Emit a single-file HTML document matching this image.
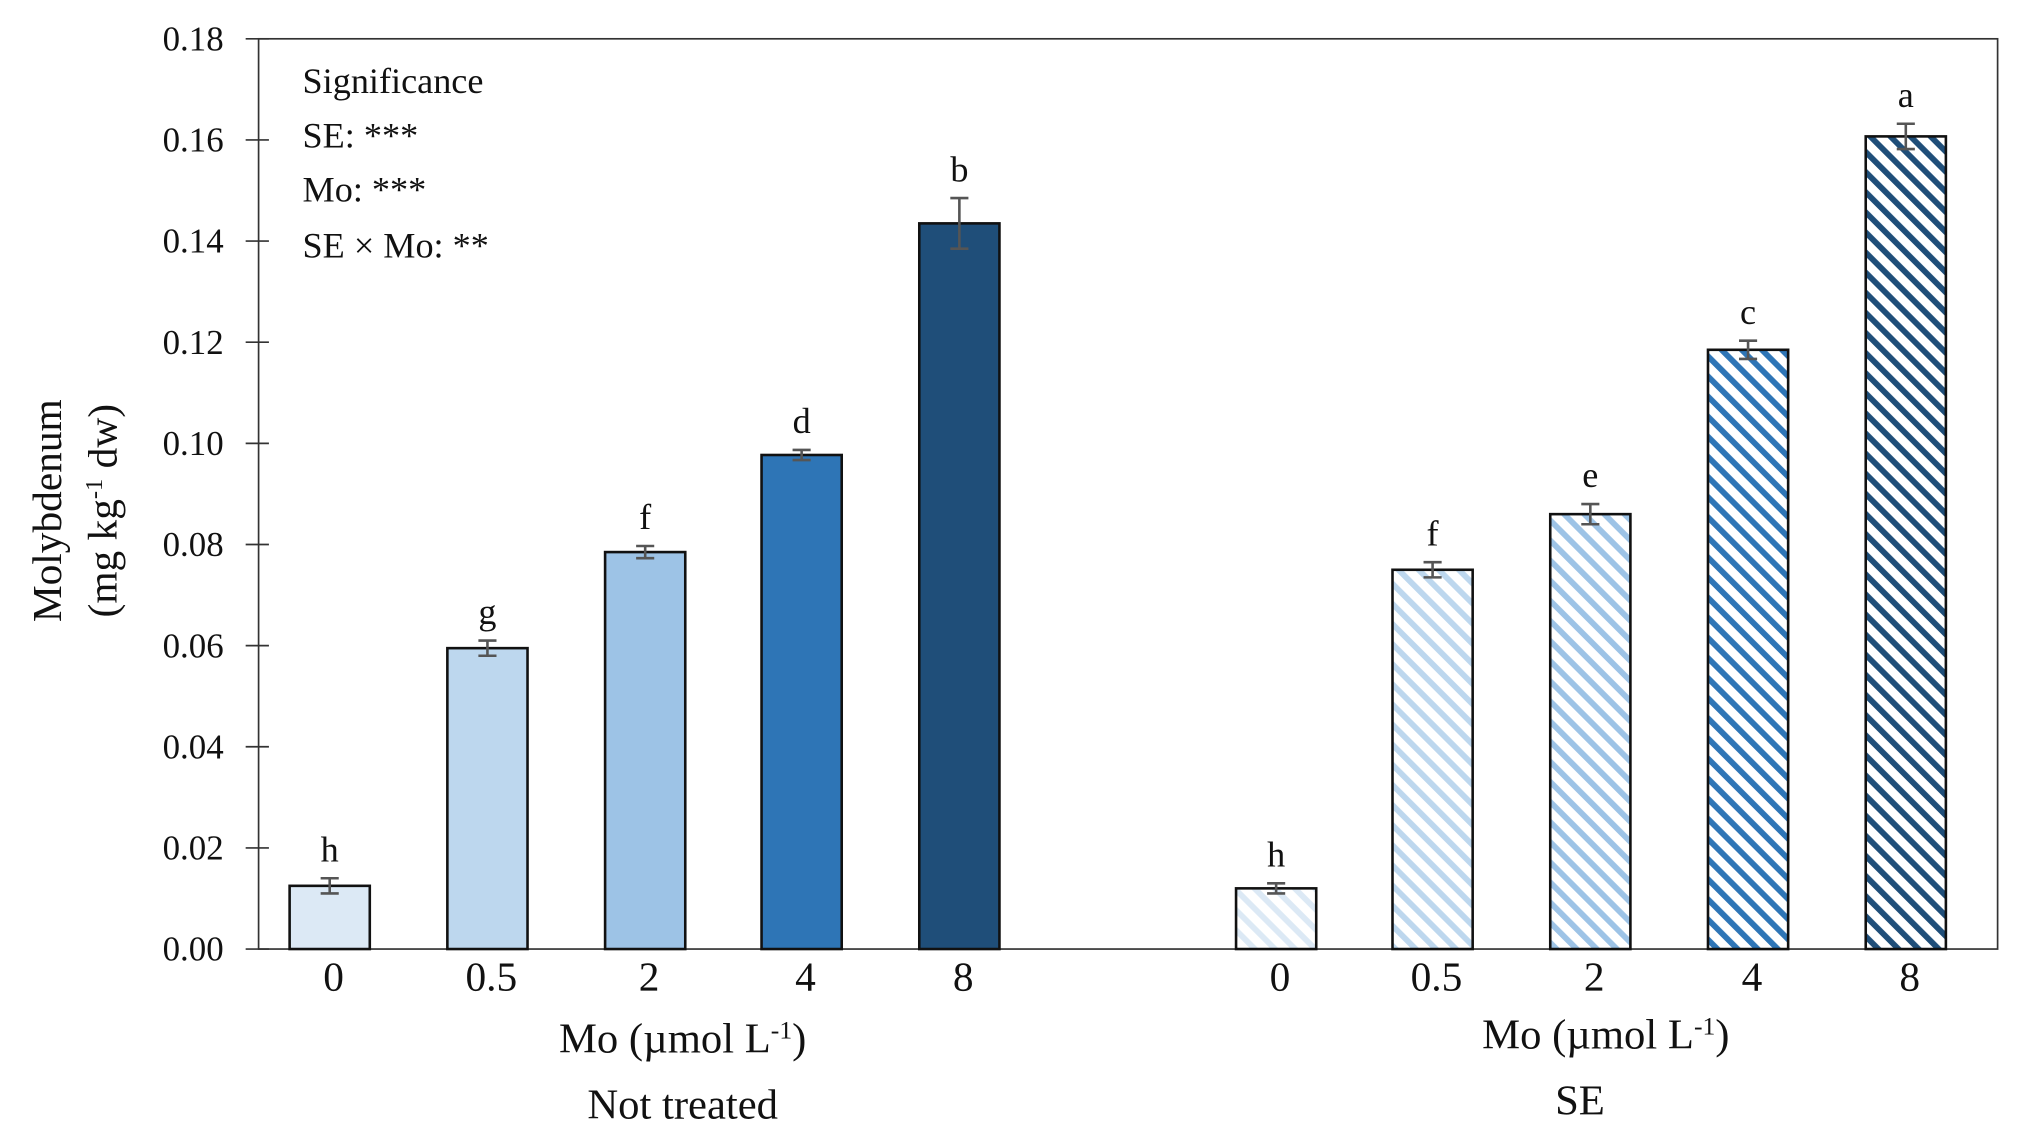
<!DOCTYPE html>
<html><head><meta charset="utf-8"><style>
html,body{margin:0;padding:0;background:#fff}
svg{display:block}
text{font-family:"Liberation Serif",serif;fill:#111}
</style></head><body>
<svg id="chart" width="2017" height="1143" viewBox="0 0 1560 884" xmlns="http://www.w3.org/2000/svg">
<defs>
<pattern id="h0" patternUnits="userSpaceOnUse" width="11" height="11" patternTransform="rotate(-45)"><rect width="11" height="11" fill="#fff"/><rect width="4.5" height="11" fill="#dce9f5"/></pattern>
<pattern id="h1" patternUnits="userSpaceOnUse" width="11" height="11" patternTransform="rotate(-45)"><rect width="11" height="11" fill="#fff"/><rect width="4.5" height="11" fill="#bdd7ee"/></pattern>
<pattern id="h2" patternUnits="userSpaceOnUse" width="11" height="11" patternTransform="rotate(-45)"><rect width="11" height="11" fill="#fff"/><rect width="4.5" height="11" fill="#9dc3e6"/></pattern>
<pattern id="h3" patternUnits="userSpaceOnUse" width="11" height="11" patternTransform="rotate(-45)"><rect width="11" height="11" fill="#fff"/><rect width="4.5" height="11" fill="#2e75b6"/></pattern>
<pattern id="h4" patternUnits="userSpaceOnUse" width="11" height="11" patternTransform="rotate(-45)"><rect width="11" height="11" fill="#fff"/><rect width="4.5" height="11" fill="#1f4e79"/></pattern>
</defs>
<g id="g"></g>
</svg>
<script>
const categories = ["0","0.5","2","4","8"];
const notTreatedValues = [0.0125,0.0595,0.0785,0.0977,0.1435];
const notTreatedErrors = [0.0015,0.0015,0.0012,0.001,0.005];
const notTreatedLetters = ["h","g","f","d","b"];
const seValues = [0.012,0.075,0.086,0.1185,0.1607];
const seErrors = [0.001,0.0015,0.002,0.0018,0.0025];
const seLetters = ["h","f","e","c","a"];
const yTicks = [0,0.02,0.04,0.06,0.08,0.10,0.12,0.14,0.16,0.18];
const yTickLabels = ["0.00","0.02","0.04","0.06","0.08","0.10","0.12","0.14","0.16","0.18"];

const NS="http://www.w3.org/2000/svg";
const g=document.getElementById('g');
const L=200,R=1545,T=30,B=734,YMAX=0.18;
function y(v){return B-(v/YMAX)*(B-T);}
const centers1=[255,377,499,620,742], centers2=[987,1108,1230,1352,1474];
function xPos(group,i){return (group===0?centers1:centers2)[i];}
const solidColors=["#dce9f5","#bdd7ee","#9dc3e6","#2e75b6","#1f4e79"];
function mk(tag,attrs,txt){const e=document.createElementNS(NS,tag);for(const k in attrs)e.setAttribute(k,attrs[k]);if(txt!==undefined)e.textContent=txt;g.appendChild(e);return e;}

let e=mk('rect',{x:L,y:T,width:R-L,height:B-T,fill:'none',stroke:'#333','stroke-width':1.3});


yTicks.forEach((t,i)=>{
  let tk=mk('line',{x1:L-10,x2:L+8,y1:y(t),y2:y(t),stroke:'#333','stroke-width':1.3});
  
  
  let tl=mk('text',{x:173,y:y(t)+9,'text-anchor':'end','font-size':27},yTickLabels[i]);
  
  
});
const BW=62;
function drawGroup(gi,vals,errs,letters){
  vals.forEach((v,i)=>{
    const cx=xPos(gi,i);
    const fill=gi===0?solidColors[i]:'url(#h'+i+')';
    let b=mk('rect',{x:cx-BW/2,y:y(v),width:BW,height:B-y(v),fill:fill,stroke:'#111','stroke-width':2});
    
    
    const y1=y(v+errs[i]),y2=y(v-errs[i]);
    let eb=mk('path',{d:`M${cx},${y1}V${y2}M${cx-7},${y1}H${cx+7}M${cx-7},${y2}H${cx+7}`,stroke:'#555','stroke-width':2,fill:'none'});
    
    
    let lt=mk('text',{x:cx,y:y1-13,'text-anchor':'middle','font-size':28},letters[i]);
    
    
    let xl=mk('text',{x:cx+3,y:766,'text-anchor':'middle','font-size':32},categories[i]);
    
    
  });
}
drawGroup(0,notTreatedValues,notTreatedErrors,notTreatedLetters);
drawGroup(1,seValues,seErrors,seLetters);

function addText(x,yy,s,size,name,anchor,sup){
  const t=mk('text',{x:x,y:yy,'font-size':size,'text-anchor':anchor||'start'});
  t.textContent=s;
  if(sup){const ts=document.createElementNS(NS,'tspan');ts.setAttribute('dy',-11);ts.setAttribute('font-size',size*0.6);ts.textContent=sup[0];t.appendChild(ts);const t2=document.createElementNS(NS,'tspan');t2.setAttribute('dy',11);t2.textContent=sup[1];t.appendChild(t2);}
  
  
  return t;
}
addText(234,72,"Significance",28,"significance-title");
addText(234,114,"SE: ***",28,"significance-se");
addText(234,156,"Mo: ***",28,"significance-mo");
addText(234,199,"SE × Mo: **",28,"significance-interaction");
addText(528,814,"Mo (µmol L",33,"x-axis-title-not-treated","middle",["-1",")"]);
addText(528,865,"Not treated",33,"group-label-not-treated","middle");
addText(1242,811,"Mo (µmol L",33,"x-axis-title-se","middle",["-1",")"]);
addText(1222,862,"SE",33,"group-label-se","middle");
let yt=mk('text',{transform:'translate(47,395) rotate(-90)','text-anchor':'middle','font-size':32},'Molybdenum');


let yt2=mk('text',{transform:'translate(90,395) rotate(-90)','text-anchor':'middle','font-size':32},'(mg kg');
const s1=document.createElementNS(NS,'tspan');s1.setAttribute('dy',-11);s1.setAttribute('font-size',19);s1.textContent='-1';yt2.appendChild(s1);
const s2=document.createElementNS(NS,'tspan');s2.setAttribute('dy',11);s2.textContent=' dw)';yt2.appendChild(s2);


</script>
</body></html>
